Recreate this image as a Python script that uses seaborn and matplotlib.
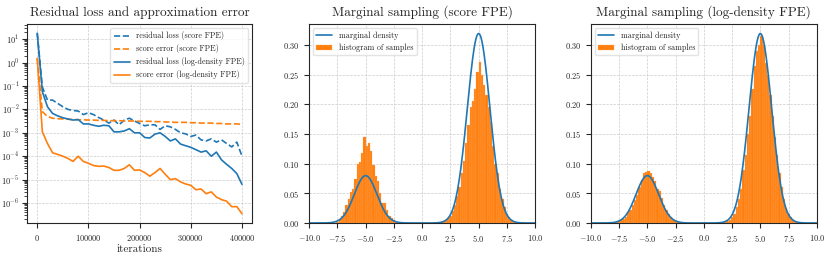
import numpy as np
import pandas as pd
import matplotlib
matplotlib.use("Agg")
import matplotlib.pyplot as plt
import seaborn as sns

# training curves, one value every 10000 iterations
iterations = list(range(0, 400001, 10000))
res_loss_score = [18, 0.09, 0.025, 0.025, 0.018, 0.013, 0.010, 0.009, 0.0085, 0.006,
                  0.0072, 0.006, 0.0045, 0.0035, 0.0026, 0.0035, 0.0022, 0.0035, 0.0042, 0.0032,
                  0.0025, 0.0020, 0.0022, 0.0022, 0.0014, 0.0020, 0.0018, 0.0014, 0.0010, 0.0009,
                  0.0007, 0.0008, 0.0005, 0.00045, 0.00055, 0.0004, 0.0005, 0.00035, 0.00025, 0.0004,
                  0.0001]
score_err_score = [1.5, 0.008, 0.005, 0.0042, 0.0040, 0.0039, 0.0038, 0.0037, 0.0036, 0.0036,
                   0.0035, 0.0035, 0.0034, 0.0034, 0.0033, 0.0033, 0.0033, 0.0032, 0.0032, 0.0032,
                   0.0031, 0.0031, 0.0031, 0.0030, 0.0030, 0.0029, 0.0029, 0.0028, 0.0028, 0.0028,
                   0.0027, 0.0027, 0.0026, 0.0026, 0.0026, 0.0025, 0.0025, 0.0024, 0.0024, 0.0024,
                   0.0023]
res_loss_logd = [18, 0.057, 0.013, 0.0067, 0.0053, 0.0044, 0.0039, 0.0035, 0.0037, 0.0024,
                 0.0024, 0.0021, 0.0019, 0.0021, 0.0020, 0.0011, 0.0011, 0.0012, 0.0015, 0.0010,
                 0.0010, 0.00063, 0.0006, 0.00088, 0.0010, 0.0007, 0.00045, 0.00055, 0.00033, 0.00028,
                 0.00024, 0.00019, 0.00015, 0.00017, 0.0001, 0.00015, 7e-5, 4.5e-5, 3e-5, 1.8e-5,
                 6.3e-6]
score_err_logd = [1.5, 0.0011, 0.00035, 0.00014, 0.00012, 0.0001, 8e-5, 6e-5, 1e-4, 6e-5,
                  5e-5, 4e-5, 3.7e-5, 3.8e-5, 3.3e-5, 2.5e-5, 2.5e-5, 3e-5, 4.3e-5, 2.5e-5,
                  2.6e-5, 2e-5, 1.4e-5, 2e-5, 3e-5, 1.7e-5, 1e-5, 1.1e-5, 8e-6, 6.5e-6,
                  5.7e-6, 3.7e-6, 4e-6, 2.5e-6, 3e-6, 1.8e-6, 1.4e-6, 1.2e-6, 7e-7, 7e-7,
                  3.5e-7]
loss_ticks = [1e1, 1e0, 1e-1, 1e-2, 1e-3, 1e-4, 1e-5, 1e-6]

# target: two-component gaussian mixture
mix_weights = [0.2, 0.8]
mix_means = [-5.0, 5.0]
mix_std = 1.0

# histogram bin heights (width 0.2, first bin centre given)
bin_width = 0.2
score_left_start = -7.5
score_left = [0.002, 0.006, 0.012, 0.018, 0.030, 0.040, 0.052, 0.058, 0.074, 0.100,
              0.102, 0.118, 0.145, 0.130, 0.135, 0.122, 0.098, 0.080, 0.070, 0.050,
              0.034, 0.033, 0.022, 0.012, 0.008, 0.005, 0.002]
score_right_start = 1.7
score_right = [0.001, 0.003, 0.005, 0.008, 0.012, 0.020, 0.030, 0.045, 0.060, 0.085,
               0.105, 0.135, 0.165, 0.195, 0.205, 0.225, 0.255, 0.272, 0.250, 0.232,
               0.215, 0.195, 0.170, 0.130, 0.100, 0.085, 0.058, 0.040, 0.027, 0.016,
               0.010, 0.005, 0.002]
logd_left_start = -7.7
logd_left = [0.001, 0.003, 0.005, 0.007, 0.010, 0.018, 0.022, 0.030, 0.038, 0.048,
             0.060, 0.072, 0.084, 0.086, 0.087, 0.085, 0.078, 0.070, 0.058, 0.054,
             0.042, 0.030, 0.022, 0.015, 0.010, 0.006, 0.004, 0.002]
logd_right_start = 1.9
logd_right = [0.001, 0.003, 0.005, 0.010, 0.016, 0.027, 0.040, 0.058, 0.090, 0.115,
              0.150, 0.180, 0.225, 0.265, 0.290, 0.300, 0.315, 0.300, 0.270, 0.250,
              0.215, 0.180, 0.145, 0.115, 0.085, 0.060, 0.040, 0.026, 0.016, 0.010,
              0.005, 0.002]


def bump(start, heights):
    centers = start + bin_width * np.arange(len(heights))
    return pd.DataFrame({"x": centers, "h": heights})


def marginal_density(x):
    dens = np.zeros_like(x)
    for w, m in zip(mix_weights, mix_means):
        dens += w * np.exp(-0.5 * ((x - m) / mix_std) ** 2) / (mix_std * np.sqrt(2 * np.pi))
    return dens


def plot_marginal(ax, parts, title):
    df = pd.concat([bump(s, h) for s, h in parts], ignore_index=True)
    sns.histplot(data=df, x="x", weights="h", binwidth=bin_width, binrange=(-10, 10),
                 stat="count", color="#ff7f0e", alpha=1.0, edgecolor="#ffb070",
                 linewidth=0.2, label="histogram of samples", ax=ax)
    xs = np.linspace(-10, 10, 600)
    sns.lineplot(x=xs, y=marginal_density(xs), color="#1f77b4", linewidth=1.2,
                 label="marginal density", ax=ax)
    ax.set_xlim(-10, 10)
    ax.set_ylim(0, 0.335)
    ax.set_xticks(np.arange(-10, 10.1, 2.5))
    ax.set_xlabel("")
    ax.set_ylabel("")
    ax.set_title(title, fontsize=9.5)
    ax.grid(True, linestyle="--", linewidth=0.5, color="#cccccc")
    ax.set_axisbelow(True)
    ax.legend(loc="upper left", fontsize=5.8, framealpha=0.8, edgecolor="#dddddd")


sns.set_style("ticks")
plt.rcParams["font.family"] = "serif"
plt.rcParams["font.serif"] = ["cmr10", "DejaVu Serif"]
plt.rcParams["mathtext.fontset"] = "cm"
plt.rcParams["axes.formatter.use_mathtext"] = True
plt.rcParams["xtick.labelsize"] = 6
plt.rcParams["ytick.labelsize"] = 6
plt.rcParams["axes.linewidth"] = 0.8

fig = plt.figure(figsize=(8.31, 2.54), dpi=100)
ax1 = fig.add_axes([0.0325, 0.122, 0.271, 0.783])
ax2 = fig.add_axes([0.372, 0.122, 0.272, 0.783])
ax3 = fig.add_axes([0.711, 0.122, 0.272, 0.783])

curves = [
    (res_loss_score, "#1f77b4", "--", "residual loss (score FPE)"),
    (score_err_score, "#ff7f0e", "--", "score error (score FPE)"),
    (res_loss_logd, "#1f77b4", "-", "residual loss (log-density FPE)"),
    (score_err_logd, "#ff7f0e", "-", "score error (log-density FPE)"),
]
for vals, col, ls, lab in curves:
    sns.lineplot(x=iterations, y=vals, color=col, linestyle=ls, linewidth=1.2, label=lab, ax=ax1)
ax1.set_yscale("log")
ax1.set_ylim(1.4e-7, 44)
ax1.set_yticks(loss_ticks)
ax1.set_xticks([0, 100000, 200000, 300000, 400000])
ax1.xaxis.get_offset_text().set_visible(False)
ax1.tick_params(axis="y", which="major", pad=2)
ax1.set_xlabel("iterations", fontsize=8, labelpad=1)
ax1.set_title("Residual loss and approximation error", fontsize=9.5)
ax1.grid(True, linestyle="--", linewidth=0.5, color="#cccccc")
ax1.legend(loc="upper right", fontsize=5.8, framealpha=0.8, edgecolor="#dddddd")

plot_marginal(ax2, [(score_left_start, score_left), (score_right_start, score_right)],
              "Marginal sampling (score FPE)")
plot_marginal(ax3, [(logd_left_start, logd_left), (logd_right_start, logd_right)],
              "Marginal sampling (log-density FPE)")

fig.savefig("out.png", dpi=100)
